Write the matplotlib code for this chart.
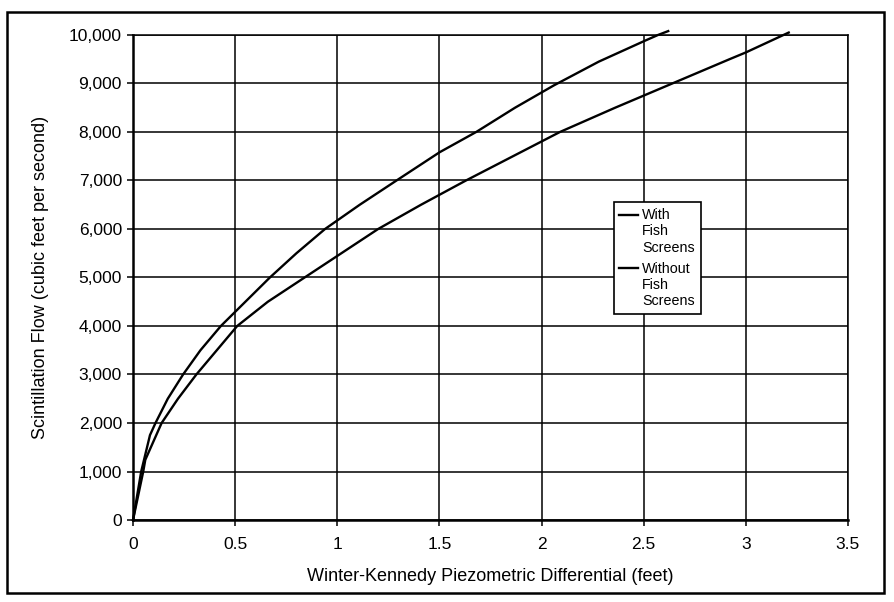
import matplotlib
matplotlib.use("Agg")
import numpy as np
import matplotlib.pyplot as plt
from matplotlib.patches import Rectangle
from matplotlib.ticker import FuncFormatter
from matplotlib.legend_handler import HandlerLine2D

# Data (differential in feet, flow in cfs)
h_with = [0, 0.04, 0.083, 0.11, 0.17, 0.245, 0.33, 0.43, 0.55, 0.67, 0.80, 0.94, 1.11,
          1.29, 1.50, 1.68, 1.87, 2.06, 2.28, 2.50, 2.57, 2.62]
q_with = [0, 1000, 1750, 2000, 2500, 3000, 3500, 4000, 4500, 5000, 5500, 6000, 6500,
          7000, 7580, 8000, 8500, 8960, 9450, 9870, 10000, 10080]
h_without = [0, 0.05, 0.06, 0.14, 0.22, 0.31, 0.41, 0.51, 0.66, 0.84, 1.02, 1.20, 1.41,
             1.63, 1.86, 2.09, 2.36, 2.64, 2.92, 3.00, 3.21]
q_without = [0, 1000, 1240, 2000, 2500, 3000, 3500, 4000, 4500, 5000, 5500, 6000, 6500,
             7000, 7500, 8000, 8500, 9000, 9500, 9640, 10050]

x_ticks = [0, 0.5, 1, 1.5, 2, 2.5, 3, 3.5]
y_ticks = list(range(0, 10001, 1000))

LINESP = 1.2


class TopLine(HandlerLine2D):
    # put the legend line beside the first line of a multi-line label
    def create_artists(self, legend, orig_handle, xdescent, ydescent, width, height, fontsize, trans):
        arts = super().create_artists(legend, orig_handle, xdescent, ydescent, width, height, fontsize, trans)
        for a in arts:
            a.set_ydata(np.asarray(a.get_ydata()) + fontsize * LINESP)
        return arts


plt.rcParams['font.family'] = ['Liberation Sans', 'DejaVu Sans']

fig = plt.figure(figsize=(8.94, 6.02), dpi=100)
ax = fig.add_axes([0.1488, 0.1362, 0.7997, 0.8057])

l1, = ax.plot(h_with, q_with, color='black', lw=1.7, clip_on=False)
l2, = ax.plot(h_without, q_without, color='black', lw=1.7, clip_on=False)

ax.set_xlim(0, 3.5)
ax.set_ylim(0, 10000)
ax.set_xticks(x_ticks)
ax.set_yticks(y_ticks)
ax.xaxis.set_major_formatter(FuncFormatter(lambda v, p: f"{v:g}"))
ax.yaxis.set_major_formatter(FuncFormatter(lambda v, p: f"{int(v):,}"))
ax.grid(True, color='black', lw=1.1)
ax.tick_params(direction='out', length=4, width=1.1, labelsize=12.5)
ax.tick_params(axis='x', pad=8)
ax.tick_params(axis='y', pad=4)
for s in ax.spines.values():
    s.set_linewidth(1.1)
ax.spines['left'].set_linewidth(1.8)
ax.spines['bottom'].set_linewidth(1.8)

ax.set_xlabel("Winter-Kennedy Piezometric Differential (feet)", fontsize=13, labelpad=12)
ax.set_ylabel("Scintillation Flow (cubic feet per second)", fontsize=13, labelpad=14)

leg = ax.legend([l1, l2], ['With\nFish\nScreens', 'Without\nFish\nScreens'],
                handler_map={l1: TopLine(), l2: TopLine()},
                loc='center', bbox_to_anchor=(0.733, 0.54), fontsize=10.3,
                handlelength=1.3, handletextpad=0.3, borderpad=0.4,
                labelspacing=0.5, fancybox=False, framealpha=1, edgecolor='black')
leg.get_frame().set_linewidth(1.2)
for t in leg.get_texts():
    t.set_linespacing(LINESP)

# outer frame around the whole chart
fig.patches.append(Rectangle((0.008, 0.015), 0.981, 0.965, transform=fig.transFigure,
                             fill=False, edgecolor='black', lw=1.8))

fig.savefig("out.png", dpi=100)
